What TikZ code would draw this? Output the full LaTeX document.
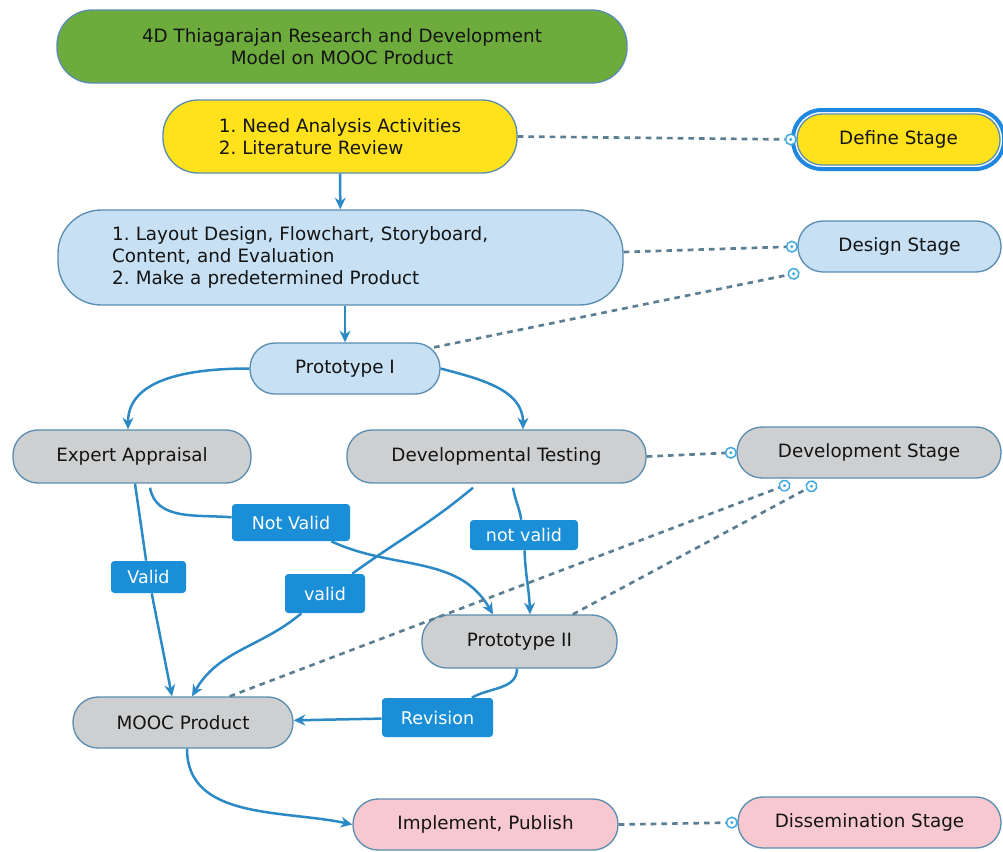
\documentclass[tikz,border=0pt]{standalone}
\usepackage{fontspec}
\setmainfont{DejaVu Sans}
\usepackage{tikz}
\usetikzlibrary{arrows.meta}
\usetikzlibrary{fit}
\usetikzlibrary{decorations.markings}

\definecolor{topgreen}{HTML}{6CAB3C}
\definecolor{defyellow}{HTML}{FFE21C}
\definecolor{desblue}{HTML}{C7E0F4}
\definecolor{devgray}{HTML}{CDCFD1}
\definecolor{disspink}{HTML}{F8C8D0}
\definecolor{edgeblue}{HTML}{5B8DB0}
\definecolor{tagblue}{HTML}{1A8FD8}
\definecolor{flowblue}{HTML}{2B8AC6}
\definecolor{linkgray}{HTML}{5C7E93}
\definecolor{ringblue}{HTML}{3FA9E0}
\definecolor{selblue}{HTML}{1F87E0}
\definecolor{textdark}{HTML}{141414}

\frenchspacing

\begin{document}
\begin{tikzpicture}[x=0.6pt,y=-0.6pt]
  \tikzset{pill/.style = {rectangle,rounded corners=15pt,draw=edgeblue,line width=0.8pt,minimum height=30.6pt,inner sep=2pt,text=textdark,font=\fontsize{11}{13.2}\selectfont}}
  \tikzset{tag/.style = {rectangle,rounded corners=2pt,fill=tagblue,text=white,inner sep=0pt,font=\fontsize{10.5}{12}\selectfont}}
  \tikzset{selframe/.style = {rectangle,rounded corners=17pt,draw=selblue,line width=2.4pt,inner sep=2pt}}
  \tikzset{flow/.style = {-{Stealth[length=7pt,width=6.5pt]},draw=flowblue,line width=1.5pt}}
  \tikzset{link/.style = {draw=linkgray,line width=1.6pt,dash pattern=on 3.4pt off 3pt,
      postaction={decorate,decoration={markings,mark=at position -0.1pt with {\draw[ringblue,fill=white,line width=0.9pt,solid] (-3.2pt,0) circle (3.2pt); \fill[ringblue] (-3.2pt,0) circle (1pt);}}}}}

  \useasboundingbox (0,0) rectangle (1003,851);

  % main column
  \node[pill,fill=topgreen,minimum width=342pt,minimum height=43.8pt,rounded corners=21pt,align=center] (title) at (342,46.5) {4D Thiagarajan Research and Development\\Model on MOOC Product};
  \node[pill,fill=defyellow,minimum width=212.4pt,minimum height=43.8pt,rounded corners=21pt,align=left] (need) at (340,136.5) {1. Need Analysis Activities\\2. Literature Review};
  \node[pill,fill=desblue,minimum width=339pt,minimum height=57pt,rounded corners=26pt,text width=274pt,inner xsep=32.4pt,align=left] (layout) at (340.5,257.5) {1. Layout Design, Flowchart, Storyboard,\\Content, and Evaluation\\2. Make a predetermined Product};
  \node[pill,fill=desblue,minimum width=114pt] (p1) at (345,368.5) {Prototype I};
  \node[pill,fill=devgray,minimum width=142.8pt,minimum height=31.8pt] (ea) at (132,456.5) {Expert Appraisal};
  \node[pill,fill=devgray,minimum width=179.4pt,minimum height=31.8pt] (dt) at (496.5,456.5) {Developmental Testing};
  \node[pill,fill=devgray,minimum width=117pt,minimum height=31.8pt] (p2) at (519.5,641.5) {Prototype II};
  \node[pill,fill=devgray,minimum width=132pt] (mooc) at (183,722.5) {MOOC Product};
  \node[pill,fill=disspink,minimum width=159pt] (impl) at (485.5,824.5) {Implement, Publish};

  % stages
  \node[pill,fill=defyellow,minimum width=121.8pt] (def) at (898.5,139.5) {Define Stage};
  \node[selframe,fit=(def)] (defsel) {};
  \node[pill,fill=desblue,minimum width=121.8pt] (ds) at (899.5,246.5) {Design Stage};
  \node[pill,fill=devgray,minimum width=158.4pt] (dvs) at (869,452.5) {Development Stage};
  \node[pill,fill=disspink,minimum width=157.8pt] (dis) at (869.5,822.5) {Dissemination Stage};

  % decisions
  \node[tag,minimum width=45pt,minimum height=19.2pt] (va1) at (148.5,577) {Valid};
  \node[tag,minimum width=70.8pt,minimum height=22.2pt] (nv1) at (291,522.5) {Not Valid};
  \node[tag,minimum width=48pt,minimum height=23.4pt] (va2) at (325,593.5) {valid};
  \node[tag,minimum width=64.8pt,minimum height=18pt] (nv2) at (524,535) {not valid};
  \node[tag,minimum width=66.6pt,minimum height=23.4pt] (rev) at (437.5,717.5) {Revision};

  \draw[flow] (need) -- (layout);
  \draw[flow] (layout.south -| p1.north) -- (p1.north);
  \draw[flow] (p1.west) to[out=180,in=90] ([xshift=-2.4pt]ea.north);
  \draw[flow] (p1.east) to[out=-15,in=90] ([xshift=15.9pt]dt.north);
  \draw[flow] ([xshift=1.8pt]ea.south) -- (va1) -- ([xshift=-6.6pt]mooc.north);
  \draw[flow] ([xshift=10.8pt,yshift=-2.4pt]ea.south) to[out=-80,in=175] (nv1) to[out=-25,in=120] ([xshift=-15.9pt]p2.north);
  \draw[flow] ([xshift=-14.1pt,yshift=-2.4pt]dt.south) to[out=-140,in=36] (va2) to[out=-140,in=60] ([xshift=5.4pt]mooc.north);
  \draw[flow] ([xshift=9.9pt,yshift=-2.4pt]dt.south) to[out=-80,in=100] (nv2) to[out=-88,in=92] ([xshift=6.3pt]p2.north);
  \draw[flow] ([xshift=-1.5pt]p2.south) to[out=-90,in=30] (rev) -- (mooc);
  \draw[flow] ([xshift=2.4pt]mooc.south) to[out=-90,in=168] (impl.west);

  \foreach \from/\to in {need.east/def.west, dt.east/dvs.west, impl.east/dis.west}
    \draw[link] (\from) -- (\to);
  \draw[link] ([yshift=3.3pt]layout.east) -- (ds.west);
  \draw[link] ([shift={(-4pt,-3pt)}]p1.north east) -- ([xshift=1pt]ds.south west);
  \draw[link] ([xshift=28pt]mooc.north) -- ([xshift=32pt,yshift=-3pt]dvs.south west);
  \draw[link] ([xshift=32pt]p2.north) -- ([xshift=48pt,yshift=-3pt]dvs.south west);
\end{tikzpicture}
\end{document}
